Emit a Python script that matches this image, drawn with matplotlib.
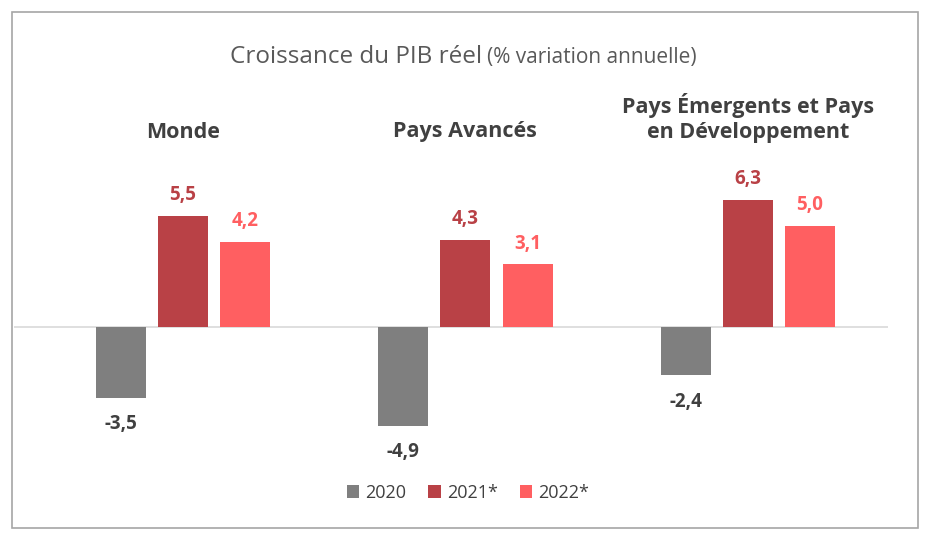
import matplotlib.pyplot as plt
import numpy as np
from matplotlib.patches import Patch, Rectangle

plt.rcParams['font.family'] = ['Open Sans', 'DejaVu Sans']

# data
groups = ["Monde", "Pays Avancés", "Pays Émergents et Pays\nen Développement"]
series = ["2020", "2021*", "2022*"]
vals_2020 = [-3.5, -4.9, -2.4]
vals_2021 = [5.5, 4.3, 6.3]
vals_2022 = [4.2, 3.1, 5.0]

colors = ["#7f7f7f", "#b94146", "#ff5f61"]
label_colors = ["#404040", "#b94146", "#ff5f61"]

W, H = 930, 542
fig = plt.figure(figsize=(W / 100, H / 100), dpi=100)

# axes placed in pixels: zero line at y=327, 20.2 px per unit
px_per_unit = 20.2
y_lo, y_hi = -7, 10
ax_left, ax_right = 14, 888
ax_bottom_px = 327 + (-y_lo) * px_per_unit
ax_top_px = 327 - y_hi * px_per_unit
ax = fig.add_axes([ax_left / W, 1 - ax_bottom_px / H,
                   (ax_right - ax_left) / W, (ax_bottom_px - ax_top_px) / H])

x = np.arange(len(groups))
width = 0.177
step = 0.22
all_vals = [vals_2020, vals_2021, vals_2022]

for k, (vals, c, lc) in enumerate(zip(all_vals, colors, label_colors)):
    xs = x + (k - 1) * step
    ax.bar(xs, vals, width=width, color=c, zorder=2)
    for xi, v in zip(xs, vals):
        txt = f"{v:.1f}".replace(".", ",")
        off = 15 if v >= 0 else -19
        ax.annotate(txt, (xi, v), xytext=(0, off), textcoords="offset points",
                    ha="center", va="center", fontsize=13.5, fontweight="bold",
                    color=lc)

ax.axhline(0, color="#d9d9d9", lw=1.2, zorder=1)
ax.set_xlim(-0.598, 2.496)
ax.set_ylim(y_lo, y_hi)
ax.axis("off")

# group titles
for xi, g in zip(x, groups):
    n_lines = g.count("\n") + 1
    y_px = 132 if n_lines == 1 else 118
    ax.text(xi, (327 - y_px) / px_per_unit, g, ha="center", va="center",
            fontsize=15.5, fontweight="bold", color="#404040",
            linespacing=1.3)

# title in two sizes
t1 = fig.text(230 / W, 1 - 57 / H, "Croissance du PIB réel", ha="left",
              va="center", fontsize=17.5, color="#595959")
fig.canvas.draw()
bb = t1.get_window_extent()
fig.text((bb.x1 + 5) / W, 1 - 58 / H, "(% variation annuelle)", ha="left",
         va="center", fontsize=15, color="#595959")

# legend
handles = [Patch(facecolor=c, edgecolor="none", label=s) for s, c in zip(series, colors)]
fig.legend(handles=handles, loc="center", bbox_to_anchor=(468 / W, 1 - 493 / H),
           ncol=3, frameon=False, fontsize=13, handlelength=0.7, handleheight=0.7,
           handletextpad=0.35, columnspacing=1.2, labelcolor="#404040")

# outer frame
fig.patches.append(Rectangle((12 / W, 1 - 528 / H), 906 / W, 516 / H,
                             transform=fig.transFigure, fill=False,
                             edgecolor="#a6a6a6", lw=1.2))

fig.savefig("out.png", dpi=100)
